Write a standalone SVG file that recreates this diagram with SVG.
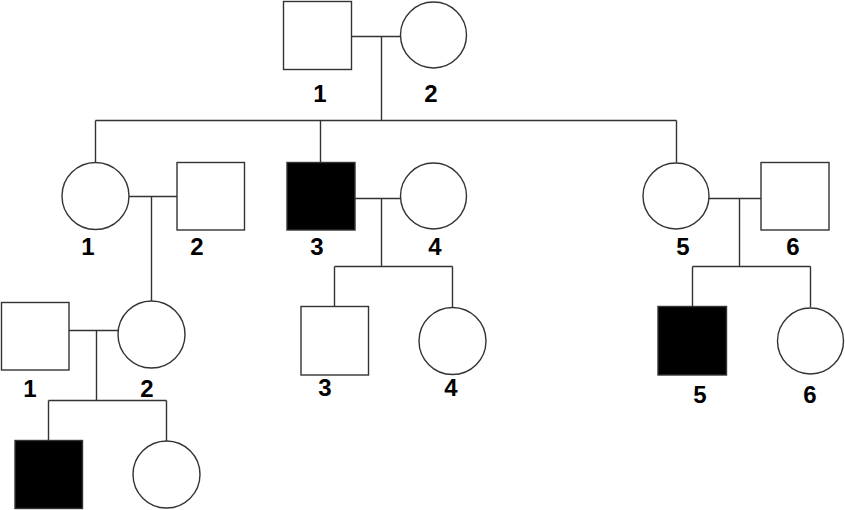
<svg xmlns="http://www.w3.org/2000/svg" width="845" height="510" viewBox="0 0 845 510">
<style>
.s{fill:#fff;stroke:#333;stroke-width:1.4}
.a{fill:#000;stroke:#333;stroke-width:1.4}
.l{fill:none;stroke:#333;stroke-width:1.4}
text{font-family:"Liberation Sans",Arial,sans-serif;font-weight:bold;font-size:24px;text-anchor:middle;fill:#000}
</style>
<rect width="845" height="510" fill="#fff"/>
<g id="connectors">
<path class="l" d="M351.5 36.5H400.5M381.5 36.5V120.5M95.5 120.5H676.5M95.5 120.5V162.5M320.5 120.5V162.5M676.5 120.5V162.5"/>
<path class="l" d="M129 196.5H177M151.5 196.5V301"/>
<path class="l" d="M355 198.5H401M381.5 198.5V266.5M334.5 266.5H452.5M334.5 266.5V306.5M452.5 266.5V307"/>
<path class="l" d="M709 198.5H761M739.5 198.5V266.5M692.5 266.5H810.5M692.5 266.5V306.5M810.5 266.5V307"/>
<path class="l" d="M69 330.5H118M96.5 330.5V400.5M48.5 400.5H166.5M48.5 400.5V440.5M166.5 400.5V441"/>
</g>
<g id="I1"><rect class="s" x="283.5" y="1.5" width="68" height="68"/><text x="320" y="102">1</text></g>
<g id="I2"><circle class="s" cx="433.5" cy="35" r="33"/><text x="431" y="102">2</text></g>
<g id="II1"><circle class="s" cx="95.5" cy="196" r="33.5"/><text x="88" y="255">1</text></g>
<g id="II2"><rect class="s" x="177" y="162.5" width="67.5" height="67.5"/><text x="197" y="255">2</text></g>
<g id="II3"><rect class="a" x="287" y="162.5" width="68" height="67.5"/><text x="317" y="255">3</text></g>
<g id="II4"><circle class="s" cx="433.5" cy="196" r="33"/><text x="435" y="255">4</text></g>
<g id="II5"><circle class="s" cx="676" cy="196" r="33"/><text x="683" y="255">5</text></g>
<g id="II6"><rect class="s" x="761" y="162.5" width="68" height="67.5"/><text x="793" y="255">6</text></g>
<g id="III1"><rect class="s" x="1.5" y="302.5" width="67.5" height="67.5"/><text x="30" y="397">1</text></g>
<g id="III2"><circle class="s" cx="151.5" cy="334.5" r="33.5"/><text x="147" y="397">2</text></g>
<g id="III3"><rect class="s" x="301" y="306.5" width="67.5" height="68.5"/><text x="325" y="396">3</text></g>
<g id="III4"><circle class="s" cx="452.5" cy="341" r="33.5"/><text x="451" y="396">4</text></g>
<g id="III5"><rect class="a" x="658" y="306.5" width="68.5" height="68.5"/><text x="700" y="403">5</text></g>
<g id="III6"><circle class="s" cx="810.5" cy="341" r="33"/><text x="810" y="403">6</text></g>
<g id="IV1"><rect class="a" x="15" y="440.5" width="67.5" height="68"/></g>
<g id="IV2"><circle class="s" cx="166.5" cy="474.5" r="33.5"/></g>
</svg>
